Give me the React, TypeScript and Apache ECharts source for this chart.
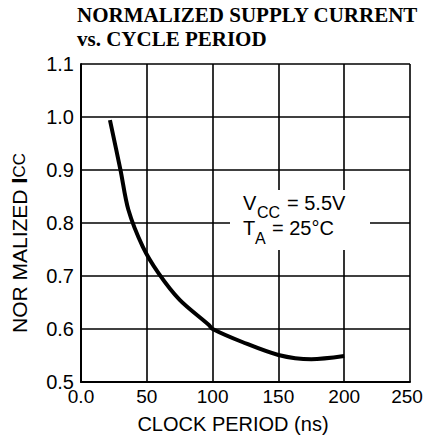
import React, { useEffect, useRef } from "react";
import * as echarts from "echarts";

const periodNs = [22, 30, 36, 47, 59, 75, 97, 100, 123, 150, 175, 200];
const normIcc = [0.994, 0.9, 0.825, 0.755, 0.705, 0.655, 0.608, 0.6, 0.575, 0.551, 0.543, 0.549];
const xTicks = [0, 50, 100, 150, 200, 250];
const yTicks = [0.5, 0.6, 0.7, 0.8, 0.9, 1.0, 1.1];

const SANS = "'Liberation Sans', Arial, Helvetica, sans-serif";
const SERIF = "'Liberation Serif', 'Times New Roman', serif";

export default function App() {
  const ref = useRef<HTMLDivElement>(null);
  useEffect(() => {
    if (!ref.current) return;
    const chart = echarts.init(ref.current, undefined, { renderer: "svg" });
    const data = periodNs.map((x, i) => [x, normIcc[i]]);
    const txt = (x: number, y: number, text: string, size: number, extra: any = {}) => ({
      type: "text",
      x,
      y,
      z: 100,
      style: { text, font: `${size}px ${SANS}`, fill: "#000", verticalAlign: "middle", ...extra },
    });
    chart.setOption({
      animation: false,
      backgroundColor: "#fff",
      grid: { left: 81, right: 15, top: 64, bottom: 63, containLabel: false, outerBoundsMode: "none" },
      xAxis: {
        type: "value",
        min: xTicks[0],
        max: xTicks[xTicks.length - 1],
        interval: 50,
        axisLine: { show: true, lineStyle: { color: "#000", width: 2 } },
        axisTick: { show: false },
        splitLine: { show: true, lineStyle: { color: "#000", width: 1.6 } },
        axisLabel: {
          color: "#000",
          fontSize: 19,
          fontFamily: SANS,
          margin: 5,
          formatter: (v: number) => (v === 0 ? "0.0" : v === 250 ? "{e|250}" : String(v)),
          rich: { e: { fontSize: 19, fontFamily: SANS, color: "#000", padding: [0, 6, 0, 0] } },
        },
      },
      yAxis: {
        type: "value",
        min: yTicks[0],
        max: yTicks[yTicks.length - 1],
        interval: 0.1,
        axisLine: { show: true, lineStyle: { color: "#000", width: 2 } },
        axisTick: { show: false },
        splitLine: { show: true, lineStyle: { color: "#000", width: 1.6 } },
        axisLabel: {
          color: "#000",
          fontSize: 20,
          fontFamily: SANS,
          margin: 7,
          formatter: (v: number) => v.toFixed(1),
        },
      },
      series: [
        {
          type: "line",
          data,
          smooth: 0.3,
          showSymbol: false,
          lineStyle: { color: "#000", width: 4 },
          z: 3,
        },
      ],
      graphic: [
        {
          type: "text",
          x: 77,
          y: 14.5,
          style: {
            text: "NORMALIZED SUPPLY CURRENT",
            font: `bold 21px ${SERIF}`,
            fill: "#000",
            verticalAlign: "middle",
          },
        },
        {
          type: "text",
          x: 77,
          y: 38.5,
          style: {
            text: "vs. CYCLE PERIOD",
            font: `bold 21px ${SERIF}`,
            fill: "#000",
            verticalAlign: "middle",
          },
        },
        txt(233, 424, "CLOCK PERIOD (ns)", 20, { align: "center" }),
        {
          type: "text",
          x: 19,
          y: 333,
          rotation: Math.PI / 2,
          style: {
            text: "{n|NOR MALIZED }{i|I}{c|CC}",
            align: "left",
            verticalAlign: "middle",
            rich: {
              n: { fontSize: 21, fontFamily: SANS, color: "#000" },
              i: { fontSize: 22, fontWeight: "bold", fontFamily: SANS, color: "#000" },
              c: { fontSize: 17, fontFamily: SANS, color: "#000" },
            },
          },
        },
        {
          type: "rect",
          z: 90,
          shape: { x: 230, y: 190, width: 140, height: 60 },
          style: { fill: "#fff" },
        },
        txt(243, 203, "V", 20),
        txt(257, 212, "CC", 16),
        txt(287, 203, "= 5.5V", 20),
        txt(243, 227.5, "T", 20),
        txt(255, 238, "A", 16),
        txt(272, 227.5, "= 25°C", 20),
      ],
    });
    return () => chart.dispose();
  }, []);
  return <div ref={ref} style={{ width: 425, height: 445, position: "absolute", left: 0, top: 0 }} />;
}
